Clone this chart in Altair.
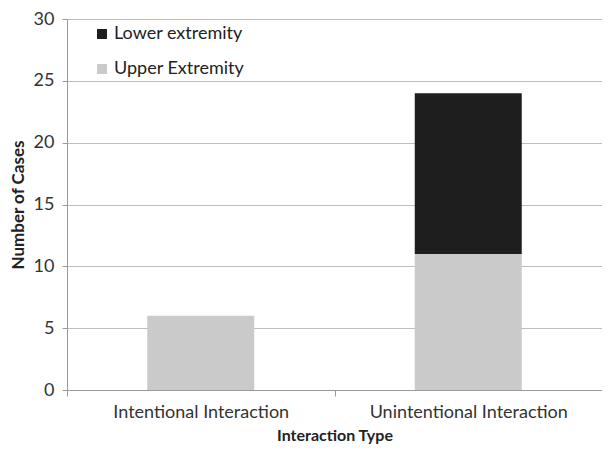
import altair as alt
import pandas as pd

categories = ["Intentional Interaction", "Unintentional Interaction"]
upper_values = [6, 11]
lower_values = [0, 13]
series = ["Lower extremity", "Upper Extremity"]

rows = []
for c, u, l in zip(categories, upper_values, lower_values):
    rows.append({"type": c, "part": "Upper Extremity", "cases": u, "ord": 0})
    rows.append({"type": c, "part": "Lower extremity", "cases": l, "ord": 1})
df = pd.DataFrame(rows)

FONT = "Lato"

chart = alt.Chart(df).mark_bar(width=alt.RelativeBandSize(0.4)).encode(
    x=alt.X("type:N", sort=categories, title="Interaction Type",
            scale=alt.Scale(paddingInner=0, paddingOuter=0),
            axis=alt.Axis(labelAngle=0, tickBand="extent", labelFontSize=18,
                          labelColor="#333333", titleFontSize=16, titleFontWeight="bold",
                          titleColor="#222222", titlePadding=6, labelPadding=7,
                          labelLimit=400,
                          domainColor="#999999", tickColor="#999999", tickSize=6,
                          labelFont=FONT, titleFont=FONT)),
    y=alt.Y("cases:Q", stack="zero", title="Number of Cases",
            scale=alt.Scale(domain=[0, 30]),
            axis=alt.Axis(values=[0, 5, 10, 15, 20, 25, 30], labelFontSize=18,
                          labelColor="#333333", titleFontSize=17, titleFontWeight="bold",
                          titleColor="#222222", titlePadding=6, labelPadding=8,
                          domainColor="#999999", tickColor="#999999", tickSize=5,
                          gridColor="#bdbdbd", labelFont=FONT, titleFont=FONT)),
    color=alt.Color("part:N", scale=alt.Scale(domain=series, range=["#1e1e1e", "#cacaca"]),
                    legend=alt.Legend(title=None, orient="none", legendX=26, legendY=6,
                                      symbolType="square", symbolSize=100, labelFontSize=18,
                                      labelColor="#222222", rowPadding=17, labelFont=FONT,
                                      labelOffset=3, symbolStrokeWidth=0)),
    order=alt.Order("ord:Q"),
).properties(
    width=535, height=371,
    autosize=alt.AutoSizeParams(type="none"),
    padding={"left": 59, "top": 11, "right": 0, "bottom": 55},
).configure_view(stroke=None).configure(background="white")

chart.save("out.html", embed_options={"renderer": "svg", "actions": False})
